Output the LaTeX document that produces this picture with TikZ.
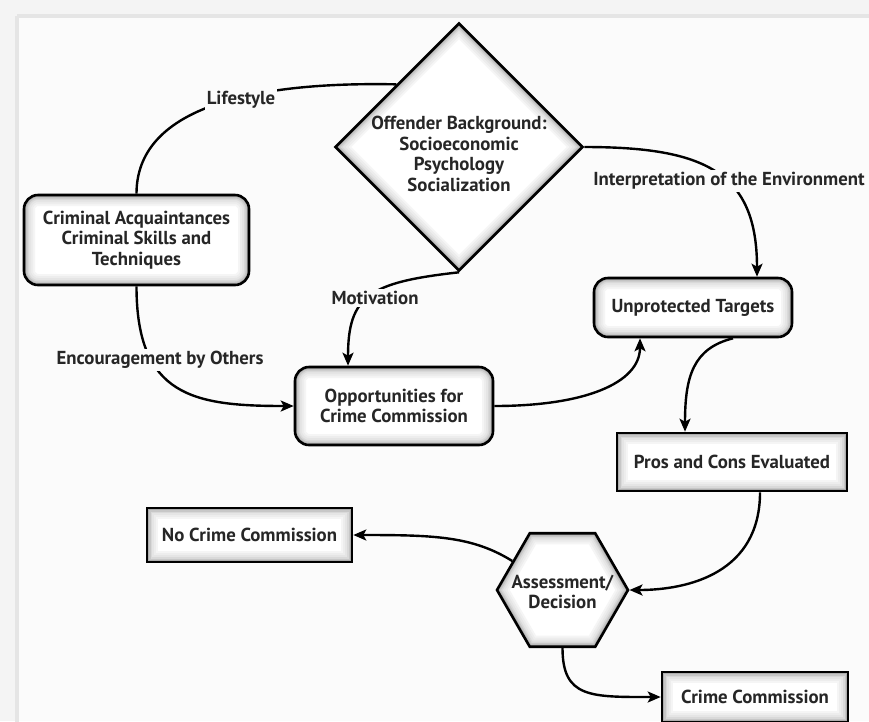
\documentclass[tikz,border=0pt]{standalone}
\usepackage{fontspec}
\newfontfamily\dfont{PT Sans}
\usetikzlibrary{shapes.geometric,arrows.meta,calc}
\definecolor{bgc}{gray}{0.985}
\definecolor{outc}{gray}{0.955}
\newcommand\glowit[1]{\foreach \w/\c in {22/4,18/7,14/10,10/15,7/22,4/32}{\draw[line width=\w pt, black!\c, line join=round] #1;}}
\begin{document}
\begin{tikzpicture}[x=1pt,y=-1pt,
  every node/.style={font=\dfont\bfseries\fontsize{18.8}{20.5}\selectfont, text=black!85},
  conn/.style={line width=2.4pt, -{Stealth[length=13pt,width=11pt,inset=3pt]}},
  plain/.style={line width=2.4pt},
  lab/.style={fill=bgc, inner sep=2pt},
  rbox/.style={draw, line width=2.6pt, rounded corners=14pt, fill=white, align=center, inner sep=0pt,
    path picture={\glowit{[rounded corners=14pt] (path picture bounding box.south west) rectangle (path picture bounding box.north east)}}},
  sbox/.style={draw, line width=2.6pt, fill=white, align=center, inner sep=0pt,
    path picture={\glowit{(path picture bounding box.south west) rectangle (path picture bounding box.north east)}}},
  dia/.style={diamond, draw, line width=2.6pt, fill=white, inner sep=0pt,
    path picture={\glowit{(path picture bounding box.north) -- (path picture bounding box.east) -- (path picture bounding box.south) -- (path picture bounding box.west) -- cycle}}},
  hexa/.style={regular polygon, regular polygon sides=6, draw, line width=2.6pt, fill=white, inner sep=0pt, align=center,
    path picture={\glowit{(path picture bounding box.west) -- ($(path picture bounding box.north west)!0.25!(path picture bounding box.north east)$) -- ($(path picture bounding box.north west)!0.75!(path picture bounding box.north east)$) -- (path picture bounding box.east) -- ($(path picture bounding box.south west)!0.75!(path picture bounding box.south east)$) -- ($(path picture bounding box.south west)!0.25!(path picture bounding box.south east)$) -- cycle}}},
]
\useasboundingbox (0,0) rectangle (869,721);
\fill[outc] (0,0) rectangle (869,721);
\fill[bgc] (18,17) rectangle (869,721);
\draw[black!10, line width=4pt] (17,16) -- (900,16);
\draw[black!10, line width=4pt] (17,16) -- (17,760);

% nodes
\node[dia, minimum width=248pt, minimum height=248pt] (bg) at (459,147) {};
\node[align=center] (bgt) at (459,154) {Offender Background:\\Socioeconomic\\Psychology\\Socialization};
\node[rbox, minimum width=225pt, minimum height=90pt] (crim) at (136.5,240) {Criminal Acquaintances\\Criminal Skills and\\Techniques};
\node[rbox, minimum width=198pt, minimum height=78pt] (opp) at (394,406) {Opportunities for\\Crime Commission};
\node[rbox, minimum width=198pt, minimum height=59pt] (unp) at (693,307.5) {Unprotected Targets};
\node[sbox, minimum width=230pt, minimum height=58pt] (pros) at (732,462) {Pros and Cons Evaluated};
\node[sbox, minimum width=205pt, minimum height=54pt] (nocrime) at (249.5,535) {No Crime Commission};
\node[hexa, minimum size=131pt] (hex) at (562.5,590) {};
\node[align=center] (hext) at (562.5,592) {Assessment/\\Decision};
\node[sbox, minimum width=186pt, minimum height=50pt] (crime) at (755,697) {Crime Commission};

\coordinate (bgul) at ($(bg.north)!0.5!(bg.west)$);

% connectors
\draw[plain] (crim.north) .. controls +(0,-85) and +(-147,-3) .. (bgul);
\draw[conn] (crim.south) .. controls +(0,110) and +(-100,0) .. (opp.west);
\draw[conn] (bg.south) .. controls +(-90,10) and +(0,-70) .. ([xshift=-46pt]opp.north);
\draw[conn] (bg.east) .. controls +(120,0) and +(0,-105) .. ([xshift=64pt]unp.north);
\draw[conn] (opp.east) .. controls +(90,0) and +(0,45) .. ([xshift=-53pt]unp.south);
\draw[conn] ([xshift=40pt]unp.south) .. controls +(-40,10) and +(0,-55) .. ([xshift=-47pt]pros.north);
\draw[conn] ([xshift=28pt]pros.south) .. controls +(0,80) and +(60,0) .. (hex.east);
\draw[conn] (hex.150) .. controls +(-40,-25) and +(80,0) .. (nocrime.east);
\draw[conn] (hex.south) .. controls +(0,50) and +(-70,0) .. (crime.west);

% labels
\node[lab] (lif) at (241,100) {Lifestyle};
\node[lab] (enc) at (160,360) {Encouragement by Others};
\node[lab] (mot) at (375,298) {Motivation};
\node[lab] (int) at (729,181) {Interpretation of the Environment};
\end{tikzpicture}
\end{document}
